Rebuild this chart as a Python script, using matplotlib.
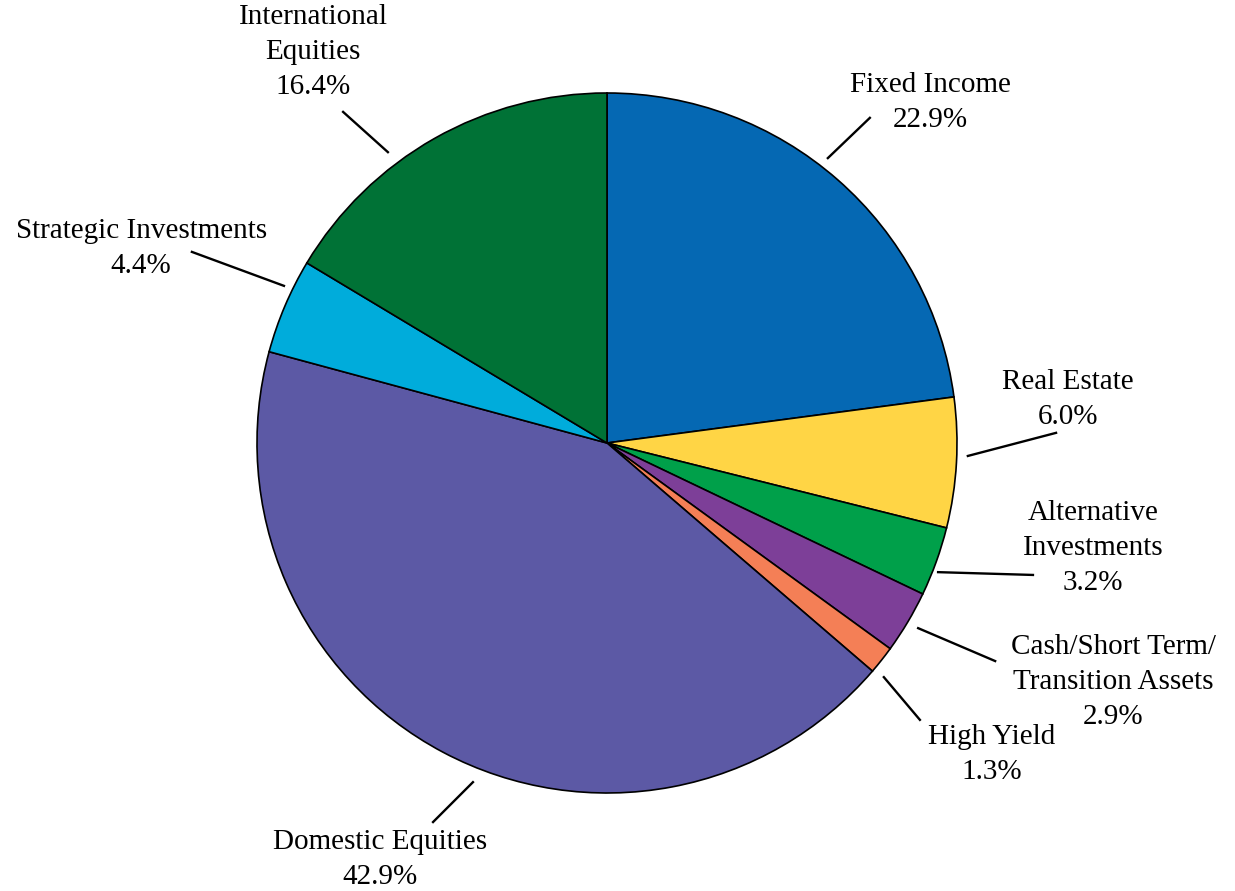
import matplotlib
matplotlib.use("Agg")
import matplotlib.pyplot as plt

categories = ["Fixed Income", "Real Estate", "Alternative\nInvestments",
              "Cash/Short Term/\nTransition Assets", "High Yield",
              "Domestic Equities", "Strategic Investments",
              "International\nEquities"]
shares = [22.9, 6.0, 3.2, 2.9, 1.3, 42.9, 4.4, 16.4]
colors = ["#0568B3", "#FFD545", "#00A04A", "#7D3F98", "#F47F56",
          "#5C59A5", "#00ACDB", "#007236"]

# label layout (data units, pie radius = 1): leader line start/end, text centre
line_starts = [(0.631, 0.814), (1.031, -0.037), (0.946, -0.369), (0.889, -0.529),
               (0.791, -0.669), (-0.383, -0.969), (-0.923, 0.449), (-0.626, 0.831)]
line_ends = [(0.751, 0.929), (1.283, 0.029), (1.217, -0.377), (1.109, -0.623),
             (0.894, -0.791), (-0.497, -1.083), (-1.186, 0.546), (-0.754, 0.946)]
text_pos = [(0.923, 0.974), (1.317, 0.123), (1.389, -0.300), (1.446, -0.683),
            (1.100, -0.889), (-0.649, -1.189), (-1.331, 0.557), (-0.840, 1.117)]

fig = plt.figure(figsize=(12.35, 8.91), dpi=100)
ax = fig.add_axes([0, 0, 1, 1])
wedges, _ = ax.pie(shares, colors=colors, startangle=90, counterclock=False,
                   radius=1.0, center=(0, 0),
                   wedgeprops=dict(edgecolor="black", linewidth=1.2))

for name, val, ls, le, tp in zip(categories, shares, line_starts, line_ends, text_pos):
    ax.plot([ls[0], le[0]], [ls[1], le[1]], color="black", lw=1.7)
    ax.text(tp[0], tp[1], f"{name}\n{val:.1f}%", ha="center", va="center",
            fontsize=21, family="Liberation Serif", linespacing=1.45)

ax.set_xlim(-607 / 350, (1235 - 607) / 350)
ax.set_ylim((443 - 891) / 350, 443 / 350)
ax.set_aspect("equal")
ax.axis("off")
fig.savefig("out.png", dpi=100)
